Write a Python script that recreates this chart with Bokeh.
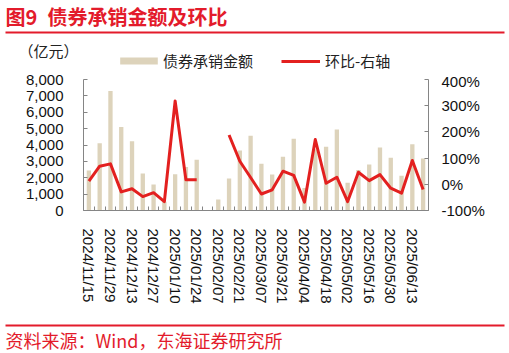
import numpy as np
from bokeh.plotting import figure
from bokeh.layouts import column
from bokeh.models import (Range1d, LinearAxis, FixedTicker, NumeralTickFormatter,
                          PrintfTickFormatter, Label, Legend, LegendItem, BoxAnnotation,
                          ColumnDataSource)
from bokeh.embed import file_html
from bokeh.resources import INLINE

dates = ["2024/11/15", "2024/11/22", "2024/11/29", "2024/12/06", "2024/12/13", "2024/12/20",
         "2024/12/27", "2025/01/03", "2025/01/10", "2025/01/17", "2025/01/24", "2025/01/31",
         "2025/02/07", "2025/02/14", "2025/02/21", "2025/02/28", "2025/03/07", "2025/03/14",
         "2025/03/21", "2025/03/28", "2025/04/04", "2025/04/11", "2025/04/18", "2025/04/25",
         "2025/05/02", "2025/05/09", "2025/05/16", "2025/05/23", "2025/05/30", "2025/06/06",
         "2025/06/13", "2025/06/20"]
amount = [2450, 4100, 7300, 5100, 4230, 2260, 1590, 540, 2220, 2650, 3100, 0,
          670, 1950, 3660, 4560, 2850, 2200, 3280, 4380, 1380, 3740, 3890, 4950,
          1690, 2480, 2810, 3850, 3220, 2120, 4040, 3180]
qoq = [12, 69, 78, -29, -17, -47, -32, -66, 318, 17, 17, None,
       None, 188, 88, 26, -37, -21, 50, 34, -68, 171, 4, 27,
       -66, 46, 14, 37, -15, -34, 91, -20]
left_ticks = [0, 1000, 2000, 3000, 4000, 5000, 6000, 7000, 8000]
right_ticks = [-100, 0, 100, 200, 300, 400]
bar_name = "债券承销金额"
line_name = "环比-右轴"
unit_text = "（亿元）"
title_no = "图9"
title_text = "债券承销金额及环比"
source_text = "资料来源：Wind，东海证券研究所"

RED = "#e3201f"
TXT_RED = "#e31b2b"
BAR = "#ddd3bb"
AXIS = "#858585"
LATIN = "Liberation Sans"
CJK = "Noto Sans CJK SC"
W = 509
H_TTL, H_LEG, H_MAIN, H_FTR = 36, 36, 246, 35

idx = list(range(len(dates)))
src = ColumnDataSource(dict(
    x=idx, amt=amount,
    qoq=np.array([np.nan if v is None else v for v in qoq], dtype=float)))


def blank(h):
    # data x equals page x, data y equals y measured down from the strip top
    f = figure(width=W, height=h, output_backend="svg", toolbar_location=None,
               x_range=Range1d(0, W), y_range=Range1d(h, 0),
               x_axis_type=None, y_axis_type=None, min_border=0, frame_align=False)
    f.outline_line_color = None
    f.background_fill_color = "white"
    f.border_fill_color = "white"
    return f


def lab(f, text, x, y, size, color, bold=False, font=CJK):
    f.add_layout(Label(x=x, y=y, text=text, text_font=font, text_font_size=size,
                       text_color=color, text_font_style="bold" if bold else "normal",
                       text_baseline="middle", text_align="left"))


def rule(f, h, y_top):
    # horizontal red rule, 2px thick, from x=5 to x=504 (screen units, y measured from bottom)
    f.add_layout(BoxAnnotation(left=5, right=504, top=h - y_top, bottom=h - y_top - 2,
                               left_units="screen", right_units="screen",
                               top_units="screen", bottom_units="screen",
                               fill_color=TXT_RED, fill_alpha=1, line_color=None,
                               level="overlay"))


# ---------- title strip ----------
ttl = blank(H_TTL)
# decorative rule under the title, drawn as a plain glyph
ttl.quad(left=[5], right=[504], top=[31], bottom=[33], fill_color=TXT_RED, line_color=None)
lab(ttl, title_no, 5, 16, "20px", TXT_RED, bold=True)
lab(ttl, title_text, 47, 16, "20px", TXT_RED, bold=True)

# ---------- unit + legend strip ----------
hdr = blank(H_LEG)
lab(hdr, unit_text, 18, 50 - H_TTL, "15px", "#222222")
# legend proxies: same data and styling as the chart renderers, not drawn here
hb = hdr.vbar(x="x", top="amt", width=0.4, source=src, fill_color=BAR, line_color=None,
              visible=False)
hl = hdr.line(x="x", y="qoq", source=src, line_color=RED, line_width=3, visible=False)
common = dict(orientation="horizontal", padding=0, margin=0, border_line_color=None,
              background_fill_alpha=0, inactive_fill_alpha=0, label_text_font=CJK,
              label_text_font_size="15px", label_text_color="#222222")
leg1 = Legend(items=[LegendItem(label=bar_name, renderers=[hb])], location=(115, 1),
              glyph_width=47, glyph_height=9, label_height=9, label_standoff=1, **common)
leg2 = Legend(items=[LegendItem(label=line_name, renderers=[hl])], location=(281, 1),
              glyph_width=39, glyph_height=16, label_height=16, label_standoff=5, **common)
hdr.add_layout(leg1, "center")
hdr.add_layout(leg2, "center")

# ---------- main chart ----------
p = figure(width=W, height=H_MAIN, output_backend="svg", toolbar_location=None,
           x_range=Range1d(-0.5, len(dates) - 0.5), y_range=Range1d(0, 8000),
           min_border_left=83, min_border_right=81, min_border_top=7, min_border_bottom=108,
           frame_align=False)
p.extra_y_ranges = {"pct": Range1d(-100, 400)}
p.outline_line_color = None
p.xgrid.visible = False
p.ygrid.visible = False
p.background_fill_color = "white"
p.border_fill_color = "white"

xa = p.xaxis[0]
xa.ticker = FixedTicker(ticks=idx[::2], minor_ticks=[i - 0.5 for i in range(len(dates) + 1)])
xa.major_label_overrides = {i: dates[i] for i in idx[::2]}
xa.major_label_orientation = "vertical"
xa.major_tick_line_color = None
xa.minor_tick_in = 4
xa.minor_tick_out = 0
xa.minor_tick_line_color = AXIS
xa.axis_line_color = AXIS
xa.major_label_standoff = 12
xa.major_label_text_font = LATIN
xa.major_label_text_font_size = "15px"
xa.major_label_text_color = "#111111"

ya = p.yaxis[0]
ya.ticker = FixedTicker(ticks=left_ticks)
ya.formatter = NumeralTickFormatter(format="0,0")
ya.major_tick_in = 4
ya.major_tick_out = 0
ya.minor_tick_line_color = None
ya.major_tick_line_color = AXIS
ya.axis_line_color = AXIS
ya.major_label_standoff = 20
ya.major_label_text_font = LATIN
ya.major_label_text_font_size = "15px"
ya.major_label_text_color = "#111111"

ra = LinearAxis(y_range_name="pct", ticker=FixedTicker(ticks=right_ticks),
                formatter=PrintfTickFormatter(format="%d%%"))
ra.major_tick_in = 4
ra.major_tick_out = 0
ra.minor_tick_line_color = None
ra.major_tick_line_color = AXIS
ra.axis_line_color = AXIS
ra.major_label_standoff = 13
ra.major_label_text_font = LATIN
ra.major_label_text_font_size = "15px"
ra.major_label_text_color = "#111111"
p.add_layout(ra, "right")

p.vbar(x="x", top="amt", width=0.4, source=src, fill_color=BAR, line_color=None)
p.line(x="x", y="qoq", y_range_name="pct", source=src, line_color=RED,
       line_width=3, line_join="round")

# ---------- footer ----------
ftr = blank(H_FTR)
rule(ftr, H_FTR, 6)
lab(ftr, source_text, 5, 21, "18px", TXT_RED)

layout = column(ttl, hdr, p, ftr, spacing=0)
open("out.html", "w").write(file_html(layout, INLINE))
